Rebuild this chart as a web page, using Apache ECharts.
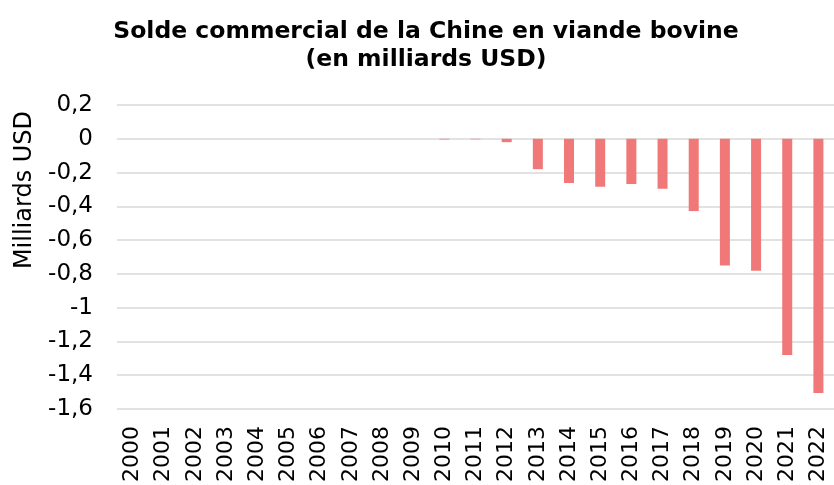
<!DOCTYPE html>
<html>
<head>
<meta charset="utf-8">
<script src="https://cdn.jsdelivr.net/npm/echarts@6/dist/echarts.min.js"></script>
<style>
  html, body { margin: 0; padding: 0; background: #fff; }
  #charts { width: 834px; height: 485px; }
</style>
</head>
<body>
<div id="charts"></div>
<script>
const years = [
  "2000", "2001", "2002", "2003", "2004", "2005", "2006", "2007",
  "2008", "2009", "2010", "2011", "2012", "2013", "2014", "2015",
  "2016", "2017", "2018", "2019", "2020", "2021", "2022"
];
// solde commercial, milliards USD
const solde = [
  0, 0, 0, 0, 0, 0, 0, 0,
  0, 0, -0.004, -0.003, -0.02, -0.18, -0.262, -0.284,
  -0.268, -0.296, -0.428, -0.75, -0.781, -1.28, -1.505
];
const yMin = -1.6;
const yMax = 0.2;
const yStep = 0.2;

const font = "DejaVu Sans";

const createChart = function() {
  const chart = echarts.init(document.getElementById("charts"));
  const option = {
    animation: false,
    title: {
      text: "Solde commercial de la Chine en viande bovine\n(en milliards USD)",
      left: 421,
      textAlign: "center",
      top: 13,
      textStyle: {
        fontFamily: font,
        fontWeight: "bold",
        fontSize: 23.5,
        lineHeight: 28,
        color: "#000"
      }
    },
    graphic: [
      {
        type: "text",
        x: 25,
        y: 190,
        rotation: Math.PI / 2,
        style: {
          text: "Milliards USD",
          fontFamily: font,
          fontSize: 24,
          fill: "#000",
          align: "center",
          verticalAlign: "middle"
        }
      }
    ],
    grid: {
      left: 117,
      right: -2,
      top: 105,
      bottom: 76
    },
    xAxis: {
      type: "category",
      data: years,
      axisLine: { show: false, onZero: false },
      axisTick: { show: false },
      axisLabel: {
        rotate: 90,
        margin: 17,
        fontFamily: font,
        fontSize: 22,
        color: "#000"
      }
    },
    yAxis: {
      type: "value",
      min: yMin,
      max: yMax,
      interval: yStep,
      axisLine: { show: false },
      axisTick: { show: false },
      splitLine: { lineStyle: { color: "#d9d9d9", width: 1.5 } },
      axisLabel: {
        margin: 24,
        fontFamily: font,
        fontSize: 23,
        color: "#000",
        formatter: function(v) {
          let r = Math.round(v * 10) / 10;
          return String(r).replace(".", ",");
        }
      }
    },
    series: [
      {
        type: "bar",
        data: solde,
        barWidth: 10,
        itemStyle: {
          color: "#f07878"
        }
      }
    ]
  };
  chart.setOption(option);
};

createChart();
</script>
</body>
</html>
